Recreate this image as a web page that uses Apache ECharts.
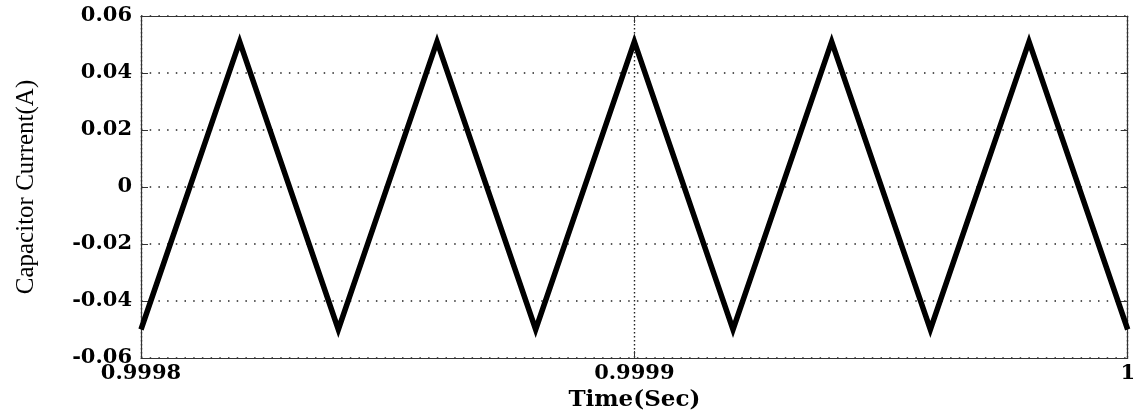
<!DOCTYPE html>
<html>
<head>
<meta charset="utf-8">
<title>Capacitor Current</title>
<script src="https://cdn.jsdelivr.net/npm/echarts@6/dist/echarts.min.js"></script>
<style>
  html, body { margin: 0; padding: 0; background: #fff; }
  #chart { width: 1138px; height: 417px; }
</style>
</head>
<body>
<div id="chart"></div>
<script>
// Triangular ripple current through the capacitor (vertices of the waveform)
const timeSec = [0.9998, 0.99982, 0.99984, 0.99986, 0.99988, 0.9999, 0.99992, 0.99994, 0.99996, 0.99998, 1.0];
const currentA = [-0.050, 0.051, -0.050, 0.051, -0.050, 0.051, -0.050, 0.051, -0.050, 0.051, -0.050];

const xRange = { min: 0.9998, max: 1.0, interval: 0.0001 };
const yRange = { min: -0.06, max: 0.06, interval: 0.02 };

const tickFont = { fontFamily: 'DejaVu Serif', fontWeight: 'bold', fontSize: 21, color: '#000' };
const frameLine = { onZero: false, lineStyle: { color: '#333', width: 1.2 } };
const innerTick = { show: true, inside: true, length: 7, lineStyle: { color: '#333', width: 1 } };

const chart = echarts.init(document.getElementById('chart'), null, { renderer: 'canvas' });
chart.setOption({
  animation: false,
  backgroundColor: '#fff',
  grid: { left: 141, right: 5, top: 16, bottom: 57 },
  xAxis: [
    {
      type: 'value',
      min: xRange.min, max: xRange.max, interval: xRange.interval,
      name: 'Time(Sec)',
      nameLocation: 'middle',
      nameGap: 31,
      nameTextStyle: { fontFamily: 'DejaVu Serif', fontWeight: 'bold', fontSize: 23, color: '#000' },
      axisLine: frameLine,
      axisTick: innerTick,
      axisLabel: Object.assign({ margin: 5, formatter: v => String(+v.toFixed(4)) }, tickFont),
      splitLine: { show: true, lineStyle: { color: '#222', width: 1.4, type: [1.4, 2.6] } }
    },
    {
      type: 'value', position: 'top',
      min: xRange.min, max: xRange.max, interval: xRange.interval,
      axisLine: frameLine, axisTick: innerTick,
      axisLabel: { show: false }, splitLine: { show: false }
    }
  ],
  yAxis: [
    {
      type: 'value',
      min: yRange.min, max: yRange.max, interval: yRange.interval,
      name: 'Capacitor Current(A)',
      nameLocation: 'middle',
      nameRotate: 90,
      nameGap: 102,
      nameTextStyle: { fontFamily: 'Liberation Serif', fontSize: 25, color: '#000' },
      axisLine: frameLine,
      axisTick: innerTick,
      axisLabel: Object.assign({ margin: 9, formatter: v => String(+v.toFixed(2)) }, tickFont),
      splitLine: { show: true, lineStyle: { color: '#222', width: 1.5, type: [1.5, 7.2] } }
    },
    {
      type: 'value', position: 'right',
      min: yRange.min, max: yRange.max, interval: yRange.interval,
      axisLine: frameLine, axisTick: innerTick,
      axisLabel: { show: false }, splitLine: { show: false }
    }
  ],
  series: [
    {
      type: 'line',
      data: timeSec.map((t, i) => [t, currentA[i]]),
      showSymbol: false,
      symbol: 'none',
      lineStyle: { color: '#000', width: 5.5, join: 'miter', cap: 'butt' }
    }
  ]
});
</script>
</body>
</html>
